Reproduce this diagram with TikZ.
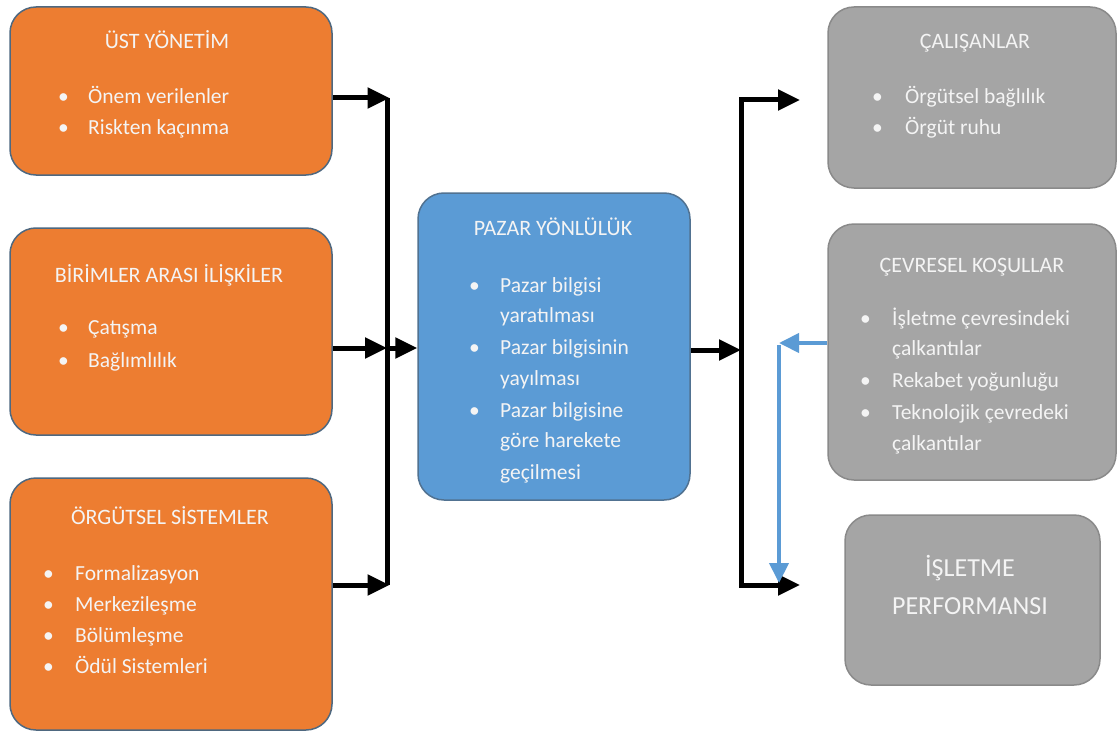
\documentclass[tikz,border=0pt]{standalone}
\usepackage{fontspec}
\setmainfont{Carlito}
\usetikzlibrary{arrows.meta}
\definecolor{orng}{HTML}{ED7D31}
\definecolor{bluf}{HTML}{5B9BD5}
\definecolor{gryf}{HTML}{A5A5A5}
\definecolor{edgeo}{HTML}{4E6880}
\definecolor{edgeg}{HTML}{8A8A8A}
\definecolor{txtc}{HTML}{F4F4F4}
\tikzset{
  box/.style={rectangle, rounded corners=26pt, line width=1.5pt, inner sep=0pt},
  obox/.style={box, fill=orng, draw=edgeo},
  bbox/.style={box, fill=bluf, draw=edgeo!80!bluf},
  gbox/.style={box, fill=gryf, draw=edgeg},
  ttl/.style={anchor=base, text=txtc, inner sep=0pt, font=\fontsize{22}{26}\selectfont},
  itm/.style={anchor=base west, text=txtc, inner sep=0pt, font=\fontsize{21.5}{26}\selectfont},
  big/.style={anchor=base, text=txtc, inner sep=0pt, font=\fontsize{26}{30}\selectfont},
  blk/.style={line width=5pt, draw=black, line join=miter},
  arr/.style={blk, -{Triangle[length=22pt,width=20pt]}},
  bln/.style={line width=4pt, draw=bluf, line join=miter},
  barr/.style={bln, -{Triangle[length=20pt,width=19pt]}}
}
\begin{document}
\begin{tikzpicture}[x=1pt,y=-1pt]
\useasboundingbox[fill=white] (0,0) rectangle (1118,733);
% boxes
\node[obox, minimum width=322pt, minimum height=168pt] (ust) at (171,91) {};
\node[obox, minimum width=322pt, minimum height=207pt] (birim) at (171,331.5) {};
\node[obox, minimum width=322pt, minimum height=252pt] (orgut) at (171,604) {};
\node[bbox, minimum width=272pt, minimum height=307pt] (pazar) at (554,346.5) {};
\node[gbox, minimum width=288pt, minimum height=181pt] (cal) at (972,97.5) {};
\node[gbox, minimum width=288pt, minimum height=256pt] (cevre) at (972,352) {};
\node[gbox, minimum width=255pt, minimum height=170pt] (perf) at (972.5,600) {};
% texts: UST YONETIM
\node[ttl] (t1) at (167,49) {ÜST YÖNETİM};
\node[itm] (t1a) at (58,104) {•};
\node[itm] (t1b) at (88,104) {Önem verilenler};
\node[itm] (t1c) at (58,134) {•};
\node[itm] (t1d) at (88,134) {Riskten kaçınma};
% BIRIMLER
\node[ttl] (t2) at (169,282) {BİRİMLER ARASI İLİŞKİLER};
\node[itm] (t2a) at (58,334) {•};
\node[itm] (t2b) at (88,334) {Çatışma};
\node[itm] (t2c) at (58,367) {•};
\node[itm] (t2d) at (88,367) {Bağlımlılık};
% ORGUTSEL
\node[ttl] (t3) at (170,524) {ÖRGÜTSEL SİSTEMLER};
\node[itm] (t3a) at (43,580) {•};
\node[itm] (t3b) at (75,580) {Formalizasyon};
\node[itm] (t3c) at (43,611) {•};
\node[itm] (t3d) at (75,611) {Merkezileşme};
\node[itm] (t3e) at (43,642) {•};
\node[itm] (t3f) at (75,642) {Bölümleşme};
\node[itm] (t3g) at (43,673) {•};
\node[itm] (t3h) at (75,673) {Ödül Sistemleri};
% PAZAR
\node[ttl] (t4) at (553,235) {PAZAR YÖNLÜLÜK};
\node[itm] (t4a) at (469,292) {•};
\node[itm] (t4b) at (500,292) {Pazar bilgisi};
\node[itm] (t4c) at (500,322) {yaratılması};
\node[itm] (t4d) at (469,354) {•};
\node[itm] (t4e) at (500,354) {Pazar bilgisinin};
\node[itm] (t4f) at (500,385) {yayılması};
\node[itm] (t4g) at (469,417) {•};
\node[itm] (t4h) at (500,417) {Pazar bilgisine};
\node[itm] (t4i) at (500,447) {göre harekete};
\node[itm] (t4j) at (500,479) {geçilmesi};
% CALISANLAR
\node[ttl] (t5) at (975,49) {ÇALIŞANLAR};
\node[itm] (t5a) at (872,104) {•};
\node[itm] (t5b) at (905,104) {Örgütsel bağlılık};
\node[itm] (t5c) at (872,135) {•};
\node[itm] (t5d) at (905,135) {Örgüt ruhu};
% CEVRESEL
\node[ttl] (t6) at (972,272) {ÇEVRESEL KOŞULLAR};
\node[itm] (t6a) at (860,325) {•};
\node[itm] (t6b) at (892,325) {İşletme çevresindeki};
\node[itm] (t6c) at (892,355) {çalkantılar};
\node[itm] (t6d) at (860,387) {•};
\node[itm] (t6e) at (892,387) {Rekabet yoğunluğu};
\node[itm] (t6f) at (860,419) {•};
\node[itm] (t6g) at (892,419) {Teknolojik çevredeki};
\node[itm] (t6h) at (892,450) {çalkantılar};
% PERFORMANS
\node[big] (t7) at (970,576) {İŞLETME};
\node[big] (t7b) at (970,614) {PERFORMANSI};
% coordinates
\coordinate (lT) at (387,98);
\coordinate (lM) at (387,348);
\coordinate (lB) at (387,585);
\coordinate (rT) at (741,100);
\coordinate (rM) at (741,350);
\coordinate (rB) at (741,585);
\coordinate (rTe) at (800,100);
\coordinate (rBe) at (800,585);
\coordinate (bT) at (779,343);
\coordinate (bB) at (779,583);
% left connectors
\draw[blk] (lT) -- (lB);
\draw[arr] (ust.east |- lT) -- ([xshift=2.5pt]lT);
\draw[arr] (orgut.east |- lB) -- ([xshift=2.5pt]lB);
\draw[arr] (birim.east |- lM) -- (lM);
\draw[arr] (lM) -- (pazar.west |- lM);
% right connectors
\draw[arr] (rB) -- (rT) -- (rTe);
\draw[arr] (rT) -- (rB) -- (rBe);
\draw[arr] (pazar.east |- rM) -- (rM);
% blue
\draw[barr] (cevre.west |- bT) -- (bT);
\draw[barr] ([yshift=-2pt]bT) -- (bB);
\end{tikzpicture}
\end{document}
